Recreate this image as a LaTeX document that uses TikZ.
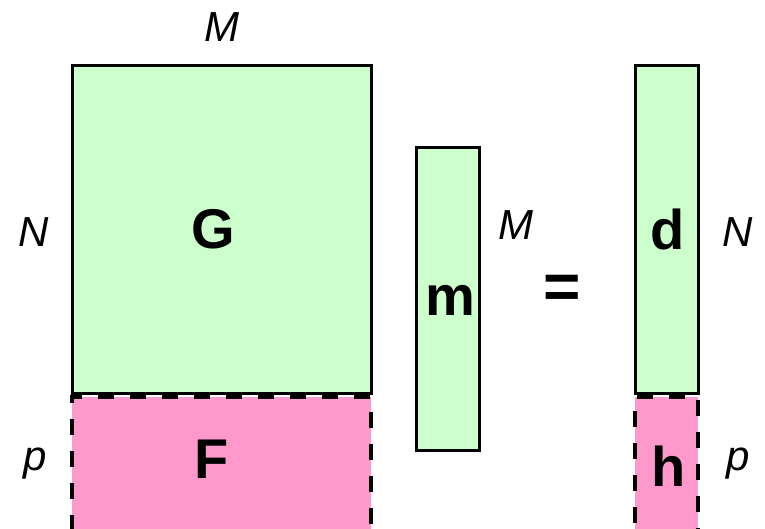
\documentclass[tikz,border=0pt]{standalone}
\usepackage{fontspec}
\setmainfont{Liberation Sans}
\usetikzlibrary{positioning}
\definecolor{matgreen}{HTML}{CCFFCC}
\definecolor{matpink}{HTML}{FF99CC}
\tikzset{
  matbox/.style={rectangle, draw=black, fill=matgreen, line width=3pt, inner sep=0pt},
  matboxp/.style={matbox, fill=matpink, line width=4pt, dash pattern=on 16pt off 16pt},
  symlbl/.style={inner sep=0pt, anchor=base, font=\fontsize{56}{60}\selectfont\bfseries},
  dimlbl/.style={inner sep=0pt, anchor=base, font=\fontsize{42}{46}\selectfont\itshape},
}

\begin{document}
\begin{tikzpicture}[x=1pt, y=-1pt]
    \clip (0,0) rectangle (765,529);
    \useasboundingbox (0,0) rectangle (765,529);
    % matrix G and constraint block F
    \node[matbox, minimum width=299pt, minimum height=327pt] (G) at (221.5,229.5) {};
    \node[matboxp, minimum width=299pt, minimum height=148pt] (F) at (221.5,471) {};
    % model vector m
    \node[matbox, minimum width=63pt, minimum height=302pt] (m) at (447.5,299) {};
    % data vector d and h
    \node[matbox, minimum width=63pt, minimum height=327pt] (d) at (666.5,229.5) {};
    \node[matboxp, minimum width=63pt, minimum height=148pt] (h) at (666.5,471) {};

    % symbols
    \node[symlbl] (Glbl) at (213,248) {G};
    \node[symlbl] (Flbl) at (212,478) {F};
    \node[symlbl] (mlbl) at (450,315) {m};
    \node[symlbl] (dlbl) at (668,250) {d};
    \node[symlbl] (hlbl) at (669,486) {h};
    \node[symlbl, anchor=center, font=\fontsize{64}{68}\selectfont\bfseries] (eq) at (562,292) {=};

    % dimensions
    \node[dimlbl] (Mtop) at (222,42) {M};
    \node[dimlbl] (Nleft) at (34,247) {N};
    \node[dimlbl] (pleft) at (35,470) {p};
    \node[dimlbl] (Mmid) at (516,240) {M};
    \node[dimlbl] (Nright) at (738,247) {N};
    \node[dimlbl] (pright) at (738,470) {p};
\end{tikzpicture}
\end{document}
